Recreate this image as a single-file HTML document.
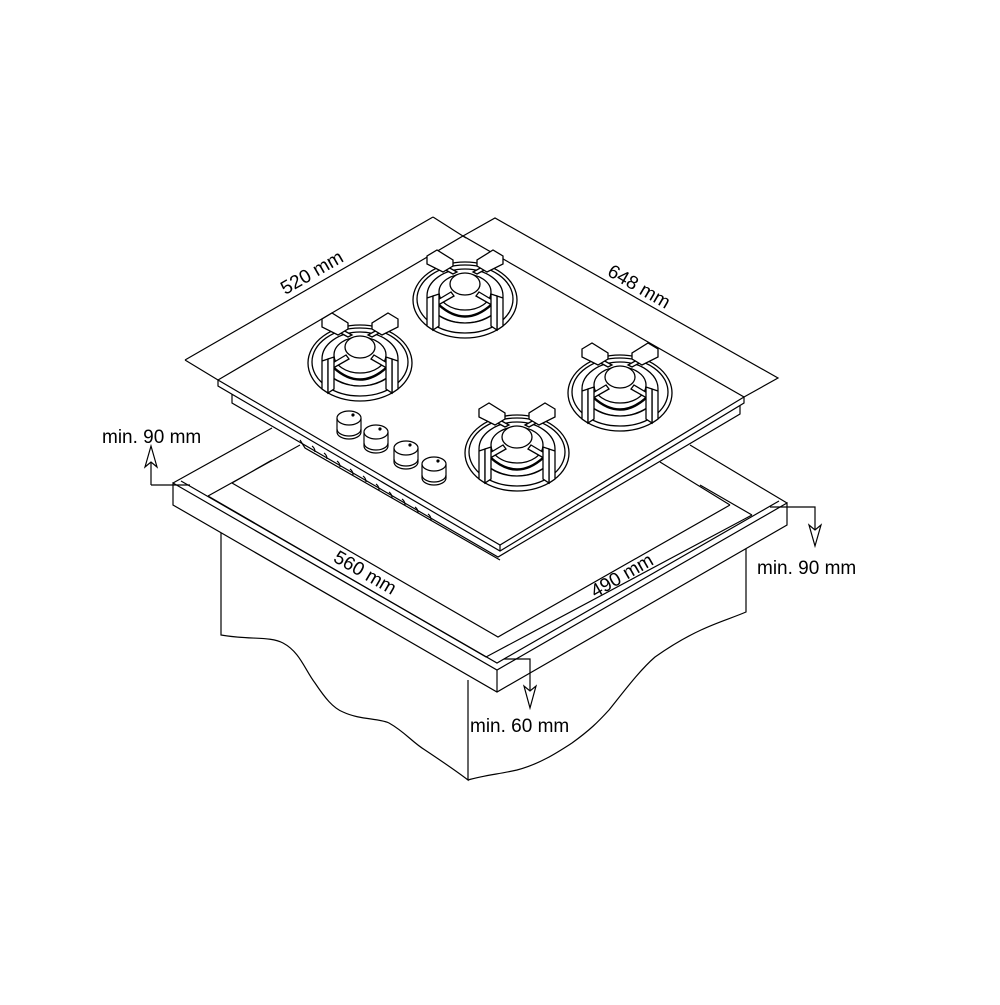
<!DOCTYPE html>
<html><head><style>html,body{margin:0;padding:0;background:#fff}</style></head>
<body>
<svg width="1000" height="1000" viewBox="0 0 1000 1000" xmlns="http://www.w3.org/2000/svg">
<defs>
<g id="burner" fill="#fff" stroke="#000" stroke-width="1.3">
  <ellipse cx="0" cy="0" rx="52" ry="38"/>
  <ellipse cx="0" cy="-1" rx="48" ry="34"/>
  <ellipse cx="0" cy="-4" rx="38" ry="27"/>
  <ellipse cx="0" cy="-8" rx="26" ry="18"/>
  <path d="M-26 5 Q0 28 26 5" fill="none" stroke-width="2.5"/>
  <path d="M-34 10 Q0 36 34 10" fill="none" stroke-width="1"/>
  <ellipse cx="0" cy="-16" rx="15" ry="11"/>
  <path d="M-14 -8 L-34 4 L-32 8 L-11 -4 Z"/>
  <path d="M14 -8 L34 4 L32 8 L11 -4 Z"/>
  <path d="M-12 -26 L-34 -38 L-30 -40 L-8 -28 Z"/>
  <path d="M12 -26 L34 -38 L30 -40 L8 -28 Z"/>
  <path d="M-38 -44 L-28 -50 L-12 -40 L-12 -34 L-22 -28 L-38 -36 Z"/>
  <path d="M38 -44 L28 -50 L12 -40 L12 -34 L22 -28 L38 -36 Z"/>
  <path d="M-38 -2 L-32 -4 L-32 30 L-38 26 Z"/>
  <path d="M38 -2 L32 -4 L32 30 L38 26 Z"/>
  <path d="M-32 -4 L-26 -6 L-26 26 L-32 30 Z"/>
  <path d="M32 -4 L26 -6 L26 26 L32 30 Z"/>
</g>
<g id="knob" fill="#fff" stroke="#000" stroke-width="1.2">
  <path d="M-12 0 L-12 14 A12 7 0 0 0 12 14 L12 0"/>
  <path d="M-12 11 A12 7 0 0 0 12 11" fill="none"/>
  <ellipse cx="0" cy="0" rx="12" ry="7"/>
  <circle cx="4" cy="-3" r="1" fill="#000"/>
</g>
</defs>
<g fill="none" stroke="#000" stroke-width="1.2">
<!-- cabinet -->
<path d="M221 533 L221 635 C250 640 270 636 283 643 C300 652 305 670 315 683 C325 698 333 708 343 712 C360 720 378 718 389 723 C405 732 412 742 425 750 C440 760 455 770 468 780 L468 680"/>
<path d="M468 780 C485 775 500 774 517 770 C540 764 558 752 572 743 C590 730 598 722 609 710 C625 690 640 670 655 657 C672 645 688 636 701 630 C718 622 732 618 746 612 L746 545"/>
<!-- countertop slab -->
<path d="M173 483 L272 428 L690 445 L787 503 L787 525 L497 692 L173 505 Z" fill="#fff" stroke="none"/>
<path d="M173 483 L497 670 L787 503 L787 525 L497 692 L173 505 Z"/>
<path d="M497 670 L497 692"/>
<path d="M181 481 L497 663 L779 501"/>
<path d="M173 483 L272 428 M208 496 L300 445 M232 483 L272 460"/>
<path d="M787 503 L690 445 M730 505 L660 462 M752 515 L700 485"/>
<path d="M208 496 L486 657 L752 515"/>
<path d="M232 483 L498 637 L730 505"/>
<!-- hob body below glass -->
<path d="M232 393 L232 403 L498 557 L740 414 L740 402" fill="#fff"/>
<path d="M300 440 L305 448 L500 560" />
<path d="M312 446 q3 2 3 6 M324 453 q3 2 3 6 M337 461 q3 2 3 6 M350 469 q3 2 3 6 M363 476 q3 2 3 6 M376 484 q3 2 3 6 M389 492 q3 2 3 6 M402 499 q3 2 3 6 M415 507 q3 2 3 6 M428 514 q3 2 3 6"/>
<!-- glass top -->
<path d="M218 380 L463 236 L744 397 L744 403 L500 551 L218 386 Z" fill="#fff"/>
<path d="M218 380 L500 545 L744 397"/>
<path d="M500 545 L500 551"/>
<!-- dimension lines -->
<path d="M185 360 L433 217 M218 380 L185 360 M433 217 L466 238"/>
<path d="M463 236 L495 218 L778 378 L744 397"/>
<!-- min 90 left -->
<path d="M151 485 L190 485 M151 485 L151 455"/>
<path d="M151 446 L145 467 L151 462 L157 467 Z" fill="#fff"/>
<!-- min 90 right -->
<path d="M770 507 L815 507 L815 530"/>
<path d="M815 546 L809 525 L815 530 L821 525 Z" fill="#fff"/>
<!-- min 60 -->
<path d="M504 659 L530 659 L530 690"/>
<path d="M530 708 L524 686 L530 691 L536 686 Z" fill="#fff"/>
</g>
<use href="#burner" x="465" y="300"/>
<use href="#burner" x="360" y="363"/>
<use href="#burner" x="620" y="393"/>
<use href="#burner" x="517" y="453"/>
<use href="#knob" x="349" y="418"/>
<use href="#knob" x="376" y="432"/>
<use href="#knob" x="406" y="448"/>
<use href="#knob" x="434" y="464"/>
<g font-family="Liberation Sans, sans-serif" font-size="19" fill="#000">
<text x="315" y="278" text-anchor="middle" transform="rotate(-30 315 278)">520 mm</text>
<text x="636" y="292" text-anchor="middle" transform="rotate(30 636 292)">648 mm</text>
<text x="362" y="578" text-anchor="middle" transform="rotate(30 362 578)">560 mm</text>
<text x="625" y="581" text-anchor="middle" transform="rotate(-30 625 581)">490 mm</text>
<text x="102" y="443">min. 90 mm</text>
<text x="757" y="574">min. 90 mm</text>
<text x="470" y="732">min. 60 mm</text>
</g>
</svg>
</body></html>
